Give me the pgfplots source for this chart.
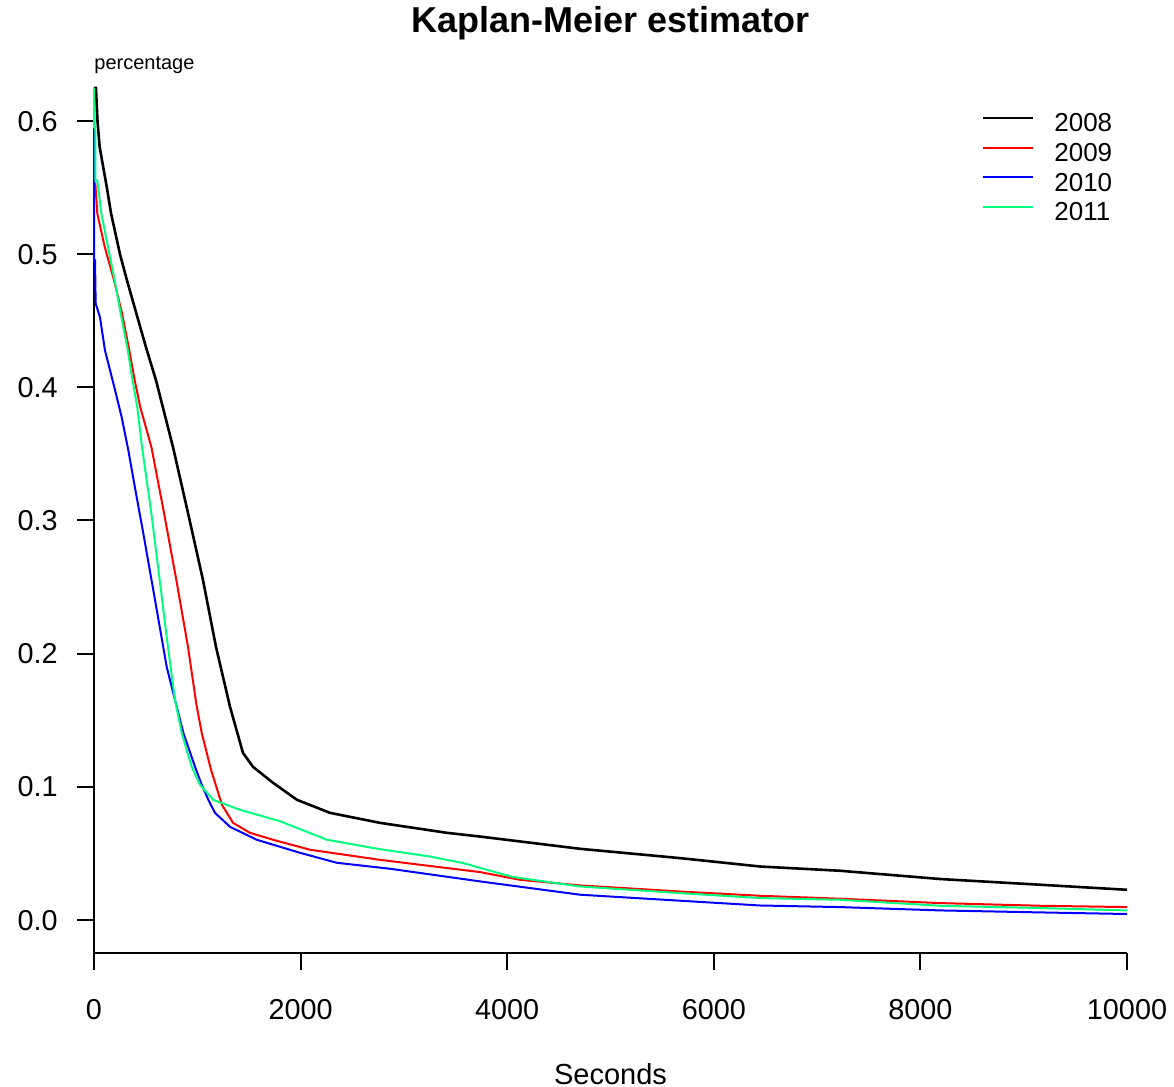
\documentclass[border=0pt]{standalone}
\usepackage{fontspec}
\setmainfont{Liberation Sans}
\usepackage{pgfplots}
\pgfplotsset{compat=1.18}
\definecolor{kmgreen}{RGB}{0,255,127}
\begin{document}
\begin{tikzpicture}
\begin{axis}[
  name=ax,
  scale only axis,
  width=516.5bp, height=432.5bp,
  xmin=0, xmax=10000, ymin=-0.025, ymax=0.625,
  axis x line*=bottom, axis y line*=left,
  axis line style={line width=1bp, black, -},
  tick align=outside,
  major tick length=8.5bp,
  tick style={line width=1bp, black},
  scaled x ticks=false, scaled y ticks=false,
  xtick={0,2000,4000,6000,8000,10000},
  xticklabels={0,2000,4000,6000,8000,10000},
  ytick={0,0.1,0.2,0.3,0.4,0.5,0.6},
  yticklabels={0.0,0.1,0.2,0.3,0.4,0.5,0.6},
  xticklabel style={font=\fontsize{14.4bp}{17bp}\selectfont, inner sep=0pt, anchor=north, text height=10.3bp, text depth=0pt},
  yticklabel style={font=\fontsize{14.4bp}{17bp}\selectfont, inner sep=0pt, anchor=east, text height=10.3bp, text depth=0pt},
  xticklabel shift=14bp,
  yticklabel shift=9.5bp,
  clip=false,
  legend style={draw=none, fill=none, at={(0.8596,0.9730)}, anchor=north west,
    inner sep=0pt, row sep=0pt,
    font=\fontsize{13bp}{15bp}\selectfont,
    nodes={inner sep=0pt, text height=10bp, text depth=4.85bp},
    /tikz/every odd column/.append style={column sep=10bp}},
  legend cell align=left,
  legend image code/.code={\draw[#1, line width=1bp] (0bp,4.3bp) -- (25bp,4.3bp);},
]
\addplot[black, line width=1.3bp] coordinates {
(0,0.625)(19,0.625)(34,0.600)(55,0.5806)(126,0.5495)(165,0.5308)(252,0.500)(319,0.4805)
(503,0.4302)(600,0.4054)(765,0.3551)(910,0.3056)(1055,0.2553)(1181,0.2050)(1317,0.1599)
(1442,0.1254)(1539,0.1149)(1733,0.1029)(1965,0.0901)(2285,0.0803)(2769,0.0728)(3417,0.0653)
(3737,0.0625)(4705,0.0533)(5673,0.0463)(6447,0.0400)(7222,0.0368)(8190,0.0306)(9158,0.0263)(10000,0.0225)
};
\addlegendentry{2008}
\addplot[red, line width=1bp] coordinates {
(0,0.625)(0,0.553)(13,0.553)(32,0.5308)(104,0.5055)(194,0.4805)(271,0.4557)(336,0.4302)
(394,0.4054)(448,0.3851)(556,0.3551)(678,0.3056)(797,0.2553)(910,0.2050)(992,0.1614)
(1043,0.1404)(1133,0.1126)(1239,0.0863)(1346,0.0728)(1510,0.0653)(1733,0.0601)(2091,0.0526)
(2769,0.0450)(3737,0.0358)(4124,0.0300)(4705,0.0258)(5673,0.0212)(6447,0.0180)(7222,0.0158)
(8190,0.0125)(9158,0.0105)(10000,0.0095)
};
\addlegendentry{2009}
\addplot[blue, line width=1bp] coordinates {
(0,0.625)(0,0.4955)(10,0.4955)(16,0.4632)(58,0.4527)(106,0.4279)(187,0.4032)(268,0.3776)
(332,0.3529)(413,0.3176)(477,0.2905)(591,0.2402)(704,0.1899)(784,0.1652)(865,0.1404)
(978,0.1149)(1043,0.1014)(1107,0.0901)(1171,0.0803)(1317,0.0698)(1575,0.0601)(1994,0.0503)
(2350,0.0428)(2866,0.0383)(3737,0.0288)(4705,0.0188)(5673,0.0143)(6447,0.0107)(7222,0.0095)
(8190,0.0070)(9158,0.0055)(10000,0.0043)
};
\addlegendentry{2010}
\addplot[kmgreen, line width=1bp] coordinates {
(0,0.625)(0,0.5956)(12,0.5956)(14,0.5556)(32,0.5556)(71,0.5308)(136,0.5053)(200,0.4805)
(258,0.4557)(322,0.4302)(373,0.4054)(419,0.3851)(465,0.3551)(555,0.3056)(636,0.2553)
(716,0.2050)(784,0.1652)(849,0.1404)(946,0.1149)(1026,0.1014)(1155,0.0901)(1413,0.0826)
(1801,0.0740)(2256,0.0601)(2769,0.0530)(3253,0.0475)(3572,0.0426)(3805,0.0375)(4056,0.0321)
(4705,0.0250)(5673,0.0200)(6447,0.0163)(7222,0.0150)(8190,0.0105)(9158,0.0088)(10000,0.0070)
};
\addlegendentry{2011}
\end{axis}
\node[anchor=base, inner sep=0pt, font=\fontsize{18bp}{21bp}\selectfont\bfseries] at ([yshift=27.5bp]ax.north) {Kaplan-Meier estimator};
\node[anchor=base west, inner sep=0pt, font=\fontsize{10bp}{12bp}\selectfont] at ([yshift=9bp]ax.north west) {percentage};
\node[anchor=base, inner sep=0pt, font=\fontsize{14.5bp}{17bp}\selectfont] at ([yshift=-65.5bp]ax.south) {Seconds};
\pgfresetboundingbox
\path[use as bounding box] (ax.south west) ++(-47bp,-67bp) rectangle ++(587bp,543.5bp);
\end{tikzpicture}
\end{document}
